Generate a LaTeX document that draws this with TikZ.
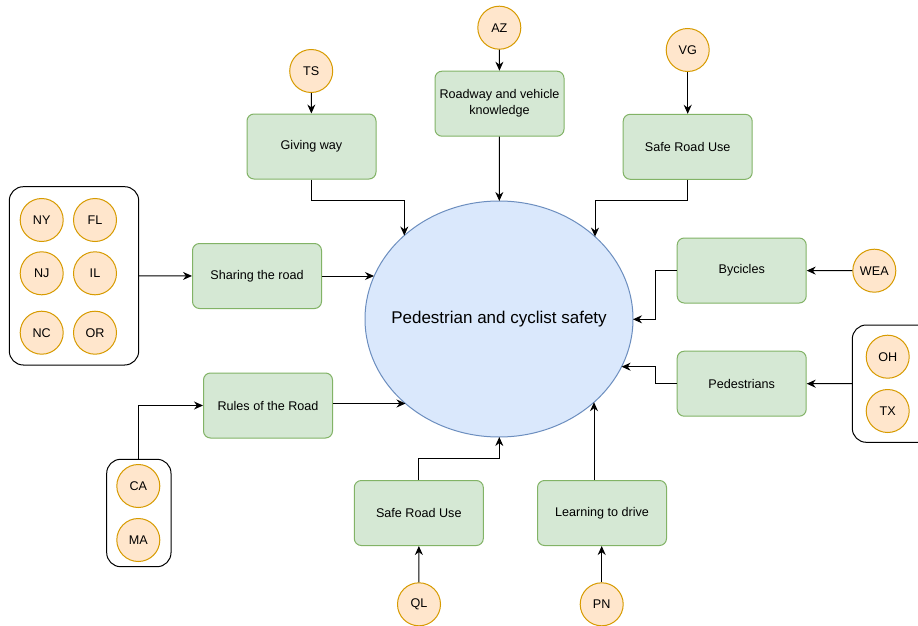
\documentclass[tikz,border=0pt]{standalone}
\usepackage{fontspec}
\setmainfont{Liberation Sans}
\usetikzlibrary{shapes.geometric,arrows.meta}
\definecolor{gfill}{HTML}{D5E8D4}
\definecolor{gline}{HTML}{82B366}
\definecolor{ofill}{HTML}{FFE6CC}
\definecolor{oline}{HTML}{D79B00}
\definecolor{bfill}{HTML}{DAE8FC}
\definecolor{bline}{HTML}{6C8EBF}
\tikzset{
  topic/.style={draw=gline, fill=gfill, line width=1pt, rounded corners=7pt, minimum width=129pt, minimum height=65pt, inner sep=0pt, align=center, font=\fontsize{12.6}{16}\selectfont},
  state/.style={circle, draw=oline, fill=ofill, line width=1pt, minimum size=43pt, inner sep=0pt, font=\fontsize{12.6}{14}\selectfont},
  grp/.style={draw=black, line width=1pt, rounded corners=14pt, fill=white},
  conn/.style={draw=black, line width=1pt, -{Stealth[length=9pt,width=8pt]}},
}
\begin{document}
\begin{tikzpicture}[x=1pt,y=-1pt]
\useasboundingbox (0,0) rectangle (918,626);
\clip (0,0) rectangle (918,626);
\fill[white] (0,0) rectangle (918,626);
% central ellipse
\node[ellipse, draw=bline, fill=bfill, line width=1pt, minimum width=268pt, minimum height=236pt, inner sep=0pt,
  label={[font=\fontsize{17}{19}\selectfont]center:Pedestrian and cyclist safety}] (ell) at (499,319) {};
% boundary points
\coordinate (eGW) at (404.3,235.5);
\coordinate (eRV) at (499.3,201);
\coordinate (eST) at (595,236.6);
\coordinate (eSH) at (374,276);
\coordinate (eRR) at (405.5,403.5);
\coordinate (eSB) at (499.3,437);
\coordinate (eLD) at (594,402.2);
\coordinate (eBY) at (633,319.3);
\coordinate (ePD) at (621.6,366.7);
% topic boxes
\node[topic] (gw) at (311.5,146.5) {Giving way};
\node[topic] (rv) at (499.5,103.7) {Roadway and vehicle\\knowledge};
\node[topic] (st) at (687.7,146.8) {Safe Road Use};
\node[topic] (sh) at (257,276) {Sharing the road};
\node[topic] (rr) at (268,405.5) {Rules of the Road};
\node[topic] (sb) at (418.8,513) {Safe Road Use};
\node[topic] (ld) at (602,513) {Learning to drive};
\node[topic] (by) at (741.7,270.5) {Bycicles};
\node[topic] (pd) at (741.7,383.7) {Pedestrians};
% group boxes
\node[grp, minimum width=129.4pt, minimum height=178.3pt, inner sep=0pt] (gl) at (74,275.85) {};
\node[grp, minimum width=64.3pt, minimum height=107.4pt, inner sep=0pt] (gca) at (138.85,513) {};
\node[grp, minimum width=80pt, minimum height=117.3pt, inner sep=0pt] (gr) at (892.3,383.65) {};
% state circles
\node[state] (ts) at (311.2,71) {TS};
\node[state] (az) at (499.3,27.7) {AZ};
\node[state] (vg) at (687.7,50) {VG};
\node[state] (ny) at (41.7,220) {NY};
\node[state] (fl) at (95,220) {FL};
\node[state] (nj) at (41.7,273.3) {NJ};
\node[state] (il) at (95,273.3) {IL};
\node[state] (nc) at (41.7,332.7) {NC};
\node[state] (or) at (95,332.7) {OR};
\node[state] (ca) at (138.3,486) {CA};
\node[state] (ma) at (138.3,540) {MA};
\node[state] (ql) at (419,604.3) {QL};
\node[state] (pn) at (601.7,604.3) {PN};
\node[state] (wea) at (874.3,270.7) {WEA};
\node[state] (oh) at (887.7,356.7) {OH};
\node[state] (tx) at (887.7,411) {TX};
% connectors: states to topics
\draw[conn] (ts) -- (gw);
\draw[conn] (az) -- (rv);
\draw[conn] (vg) -- (st);
\draw[conn] (gl) -- (sh);
\draw[conn] (gca.north) |- (rr.west);
\draw[conn] (ql) -- (sb);
\draw[conn] (pn) -- (pn |- ld.south);
\draw[conn] (wea) -- (by);
\draw[conn] (gr.west) -- (pd.east);
% topics to ellipse
\draw[conn] (gw.south) -- ++(0,21) -| (eGW);
\draw[conn] (rv) -- (eRV);
\draw[conn] (st.south) -- ++(0,21) -| (eST);
\draw[conn] (sh.east) -- (eSH);
\draw[conn] (rr.east |- eRR) -- (eRR);
\draw[conn] (sb.north) -- ++(0,-21.4) -| (eSB);
\draw[conn] (eLD |- ld.north) -- (eLD);
\draw[conn] (by.west) -- ++(-21.6,0) |- (eBY);
\draw[conn] (pd.west) -- ++(-21.6,0) |- (ePD);
\end{tikzpicture}
\end{document}
